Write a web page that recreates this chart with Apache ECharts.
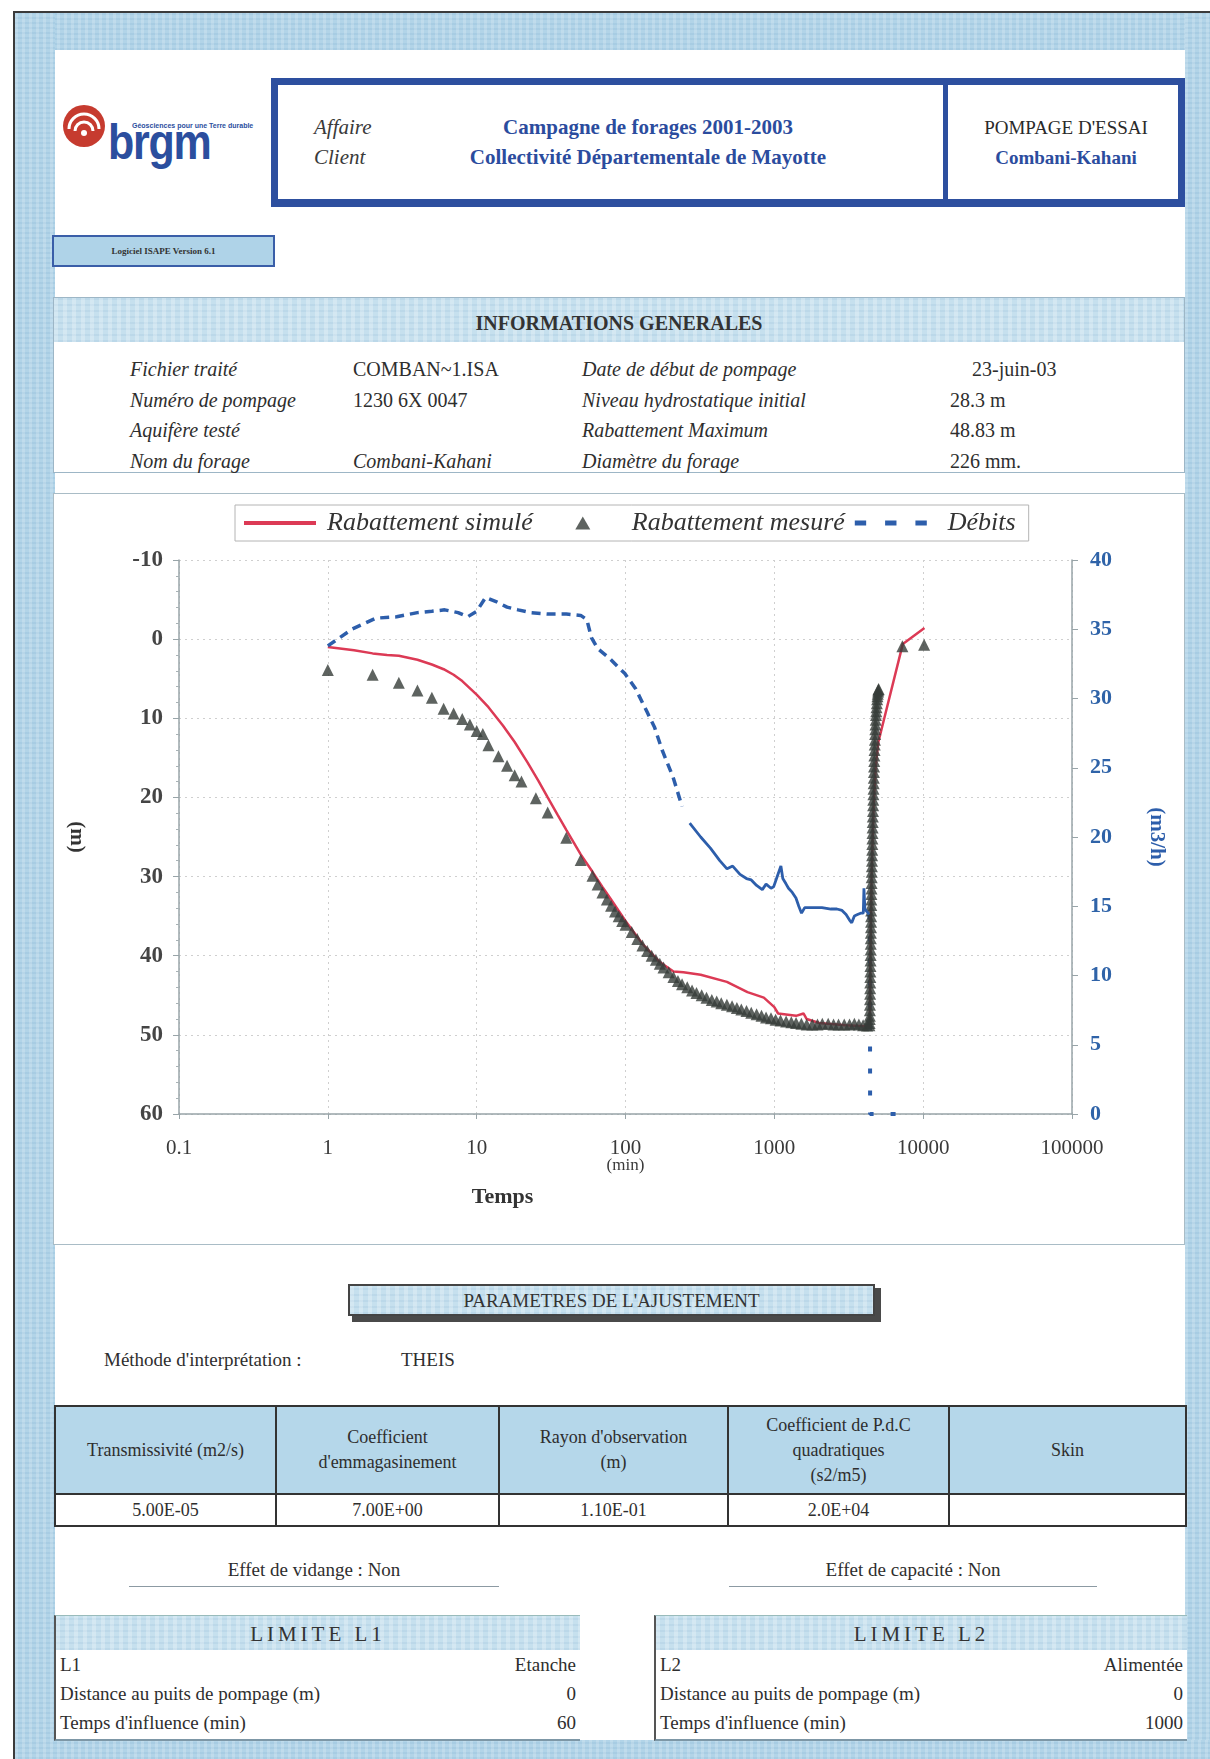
<!DOCTYPE html>
<html lang="fr">
<head>
<meta charset="utf-8">
<title>Pompage d'essai – Combani-Kahani</title>
<script src="https://cdn.jsdelivr.net/npm/echarts@6/dist/echarts.min.js"></script>
<style>
  html, body { margin: 0; padding: 0; background: #ffffff; }
  #page { position: relative; width: 1210px; height: 1759px; overflow: hidden; font-family: "Liberation Serif", "DejaVu Serif", serif; color: #2e2e2e; }
  .abs { position: absolute; }
  .band { position: absolute; background: #b2d4e8;
          background-image: repeating-linear-gradient(90deg, rgba(255,255,255,0.18) 0 3px, rgba(255,255,255,0) 3px 7px),
                            repeating-linear-gradient(0deg, rgba(120,170,205,0.18) 0 2px, rgba(255,255,255,0) 2px 5px); }
  .hdrband { background: #c6e0ee;
             background-image: repeating-linear-gradient(90deg, rgba(255,255,255,0.25) 0 4px, rgba(255,255,255,0) 4px 9px),
                               repeating-linear-gradient(0deg, rgba(140,180,210,0.18) 0 2px, rgba(255,255,255,0) 2px 6px); }
  .blue { color: #2b4c9e; }
  .it { font-style: italic; }
  .b { font-weight: bold; }
  table.params { position: absolute; left: 54px; top: 1405px; width: 1131px; height: 122px; border-collapse: collapse; table-layout: fixed; font-size: 18px; }
  table.params td { border: 2px solid #333; text-align: center; vertical-align: middle; padding: 0 2px; line-height: 25px; color: #2e2e2e; }
  table.params tr.h td { background: #b5d7ea; height: 86px; }
  table.params tr.v td { height: 30px; background: #fff; }
  .lim { position: absolute; top: 1615px; height: 123px; background: #fff; border-left: 2px solid #555; border-bottom: 2px solid #7d97a6; border-top: 1px solid #9bb; }
  .lim .head { position: absolute; left: 0; right: 0; top: 0; height: 34px; text-align: center; font-size: 21px; letter-spacing: 4px; line-height: 36px; color: #333; }
  .lim .row { position: absolute; left: 4px; right: 4px; font-size: 19px; height: 28px; line-height: 28px; }
  .lim .row span.r { position: absolute; right: 0; }
</style>
</head>
<body>
<div id="page">
  <!-- page frame and blue margins -->
  <div class="abs" style="left:13px;top:11px;width:1197px;height:2px;background:#3b3b3b"></div>
  <div class="abs" style="left:13px;top:11px;width:2px;height:1748px;background:#3b3b3b"></div>
  <div class="band" style="left:15px;top:13px;width:1195px;height:37px"></div>
  <div class="band" style="left:15px;top:13px;width:40px;height:1746px"></div>
  <div class="band" style="left:1185px;top:13px;width:25px;height:1746px"></div>
  <div class="band" style="left:15px;top:1740px;width:1195px;height:19px"></div>

  <!-- logo -->
  <svg class="abs" style="left:60px;top:102px" width="52" height="52" viewBox="0 0 52 52">
    <circle cx="24" cy="24" r="21" fill="#c63b2f"/>
    <path d="M9 27 A15 15 0 0 1 39 27" fill="none" stroke="#fff" stroke-width="3"/>
    <path d="M15 29 A9 9 0 0 1 33 29" fill="none" stroke="#fff" stroke-width="3"/>
    <circle cx="24" cy="31" r="3" fill="#fff"/>
  </svg>
  <div class="abs b" style="left:108px;top:116px;font-family:'Liberation Sans',Arial,sans-serif;font-size:50px;letter-spacing:-1.5px;color:#2b4e9e;line-height:52px;transform:scaleX(0.86);transform-origin:left top">brgm</div>
  <div class="abs b" style="left:132px;top:122px;font-family:'Liberation Sans',Arial,sans-serif;font-size:7px;color:#2b4e9e;white-space:nowrap">Géosciences pour une Terre durable</div>

  <!-- heading box -->
  <div class="abs" style="left:271px;top:78px;width:900px;height:114px;border:7px solid #2d4f9f;border-bottom-width:8px"></div>
  <div class="abs" style="left:943px;top:80px;width:5px;height:120px;background:#2d4f9f"></div>
  <div class="abs it" style="left:314px;top:115px;font-size:21px;color:#3a3a3a">Affaire</div>
  <div class="abs it" style="left:314px;top:145px;font-size:21px;color:#3a3a3a">Client</div>
  <div class="abs b blue" style="left:420px;width:456px;text-align:center;top:115px;font-size:21px">Campagne de forages 2001-2003</div>
  <div class="abs b blue" style="left:420px;width:456px;text-align:center;top:145px;font-size:21px">Collectivité Départementale de Mayotte</div>
  <div class="abs" style="left:950px;width:232px;text-align:center;top:117px;font-size:19px;color:#2a2a2a">POMPAGE D'ESSAI</div>
  <div class="abs b blue" style="left:950px;width:232px;text-align:center;top:147px;font-size:19px">Combani-Kahani</div>

  <!-- software tag -->
  <div class="abs" style="left:52px;top:235px;width:219px;height:28px;background:#afd3e8;border:2px solid #3a5ea8;text-align:center;font-size:9px;line-height:28px;font-weight:bold;color:#333">Logiciel ISAPE Version 6.1</div>

  <!-- general information -->
  <div class="abs" style="left:53px;top:297px;width:1130px;height:174px;border:1px solid #9db6c6;background:#fff"></div>
  <div class="abs hdrband" style="left:54px;top:298px;width:1130px;height:44px"></div>
  <div class="abs b" style="left:54px;width:1130px;text-align:center;top:312px;font-size:20px;color:#333">INFORMATIONS GENERALES</div>
  <div class="abs it" style="left:130px;top:354px;font-size:20px;line-height:30.5px">Fichier traité<br>Numéro de pompage<br>Aquifère testé<br>Nom du forage</div>
  <div class="abs" style="left:353px;top:354px;font-size:20px;line-height:30.5px">COMBAN~1.ISA<br>1230 6X 0047<br>&nbsp;<br><i>Combani-Kahani</i></div>
  <div class="abs it" style="left:582px;top:354px;font-size:20px;line-height:30.5px">Date de début de pompage<br>Niveau hydrostatique initial<br>Rabattement Maximum<br>Diamètre du forage</div>
  <div class="abs" style="left:972px;top:354px;font-size:20px;line-height:30.5px">23-juin-03</div>
  <div class="abs" style="left:950px;top:384.5px;font-size:20px;line-height:30.5px">28.3 m<br>48.83 m<br>226 mm.</div>

  <!-- chart panel -->
  <div class="abs" style="left:53px;top:493px;width:1130px;height:750px;border:1px solid #a9bcc6;background:#fff"></div>
  <div id="chart" class="abs" style="left:53px;top:493px;width:1132px;height:752px"></div>

  <!-- fitted parameters -->
  <div class="abs" style="left:352px;top:1288px;width:529px;height:34px;background:#4a4a4a"></div>
  <div class="abs hdrband" style="left:348px;top:1284px;width:523px;height:28px;border:2px solid #444;text-align:center;font-size:19px;line-height:29px;color:#333">PARAMETRES DE L'AJUSTEMENT</div>
  <div class="abs" style="left:104px;top:1349px;font-size:19px">Méthode d'interprétation :</div>
  <div class="abs" style="left:401px;top:1349px;font-size:19px">THEIS</div>

  <table class="params">
    <colgroup><col style="width:221px"><col style="width:223px"><col style="width:229px"><col style="width:221px"><col style="width:237px"></colgroup>
    <tr class="h"><td>Transmissivité (m2/s)</td><td>Coefficient<br>d'emmagasinement</td><td>Rayon d'observation<br>(m)</td><td>Coefficient de P.d.C<br>quadratiques<br>(s2/m5)</td><td>Skin</td></tr>
    <tr class="v"><td>5.00E-05</td><td>7.00E+00</td><td>1.10E-01</td><td>2.0E+04</td><td></td></tr>
  </table>

  <div class="abs" style="left:129px;width:370px;text-align:center;top:1559px;font-size:19px">Effet de vidange : Non</div>
  <div class="abs" style="left:129px;top:1586px;width:370px;height:1px;background:#8c9aa3"></div>
  <div class="abs" style="left:729px;width:368px;text-align:center;top:1559px;font-size:19px">Effet de capacité : Non</div>
  <div class="abs" style="left:729px;top:1586px;width:368px;height:1px;background:#8c9aa3"></div>

  <div class="lim" style="left:54px;width:524px">
    <div class="head hdrband">LIMITE L1</div>
    <div class="row" style="top:35px">L1<span class="r">Etanche</span></div>
    <div class="row" style="top:64px">Distance au puits de pompage (m)<span class="r">0</span></div>
    <div class="row" style="top:93px">Temps d'influence (min)<span class="r">60</span></div>
  </div>
  <div class="lim" style="left:654px;width:531px">
    <div class="head hdrband">LIMITE L2</div>
    <div class="row" style="top:35px">L2<span class="r">Alimentée</span></div>
    <div class="row" style="top:64px">Distance au puits de pompage (m)<span class="r">0</span></div>
    <div class="row" style="top:93px">Temps d'influence (min)<span class="r">1000</span></div>
  </div>
</div>

<script>
// Measured drawdown (m) against elapsed time (min): pumping phase then recovery
const measuredTime = [1, 2, 3, 4, 5, 6, 7, 8, 9, 10, 11, 12, 14, 16, 18, 20, 25, 30, 40, 50,
  60, 65, 70, 75, 80, 85, 90, 95, 100, 110, 120, 130, 140, 150, 160, 170, 180, 195, 210, 225,
  240, 260, 280, 300, 325, 350, 380, 410, 440, 480, 520, 560, 600, 650, 700, 760, 820, 880, 950, 1020,
  1100, 1200, 1300, 1400, 1520, 1650, 1800, 1950, 2100, 2300, 2500, 2700, 2950, 3200, 3450, 3700, 3950, 4200, 4350,
  4365, 4375, 4380, 4385, 4390, 4395, 4400, 4405, 4410, 4415, 4420, 4425, 4430, 4435, 4440, 4445, 4450, 4455, 4460, 4465,
  4470, 4475, 4480, 4485, 4490, 4495, 4500, 4508, 4515, 4522, 4530, 4538, 4545, 4552, 4560, 4568, 4575, 4582, 4590, 4600,
  4610, 4620, 4630, 4640, 4650, 4660, 4670, 4680, 4690, 4702, 4715, 4728, 4740, 4755, 4770, 4785, 4800, 4820, 4840, 4860,
  4880, 4905, 4930, 4955, 4980, 5000, 5020, 7250, 10150];
const measuredDrawdown = [3.9, 4.5, 5.5, 6.5, 7.4, 8.8, 9.4, 10.1, 10.8, 11.6, 12.0, 13.4, 14.8, 16.0, 17.2, 18.0, 20.1, 21.9, 25.1, 27.9,
  29.9, 31.0, 32.0, 32.9, 33.7, 34.4, 35.0, 35.6, 36.1, 37.0, 37.9, 38.7, 39.4, 40.0, 40.5, 41.0, 41.5, 42.1, 42.7, 43.2,
  43.6, 44.0, 44.4, 44.7, 45.0, 45.3, 45.6, 45.8, 46.0, 46.2, 46.4, 46.6, 46.8, 47.0, 47.2, 47.4, 47.6, 47.8, 47.9, 48.1,
  48.2, 48.3, 48.4, 48.5, 48.6, 48.7, 48.7, 48.7, 48.6, 48.6, 48.7, 48.7, 48.7, 48.7, 48.6, 48.7, 48.8, 48.83, 48.8,
  48.5, 48.0, 47.6, 46.9, 46.2, 45.5, 44.8, 44.1, 43.4, 42.7, 42.0, 41.3, 40.6, 39.9, 39.2, 38.5, 37.8, 37.1, 36.4, 35.7,
  35.0, 34.3, 33.6, 32.9, 32.2, 31.5, 30.8, 30.1, 29.4, 28.7, 28.0, 27.3, 26.6, 25.9, 25.2, 24.5, 23.8, 23.1, 22.4, 21.7,
  21.0, 20.3, 19.6, 18.9, 18.2, 17.5, 16.8, 16.1, 15.4, 14.7, 14.0, 13.3, 12.7, 12.0, 11.4, 10.8, 10.2, 9.6, 9.1, 8.6,
  8.1, 7.6, 7.2, 6.9, 6.6, 6.4, 6.3, 0.9, 0.7];

// Theis simulated drawdown (m)
const simulatedTime = [1, 1.5, 2, 2.5, 3, 4, 5, 6, 7, 8, 10, 12, 15, 18, 22, 26, 30, 35, 40, 50,
  60, 70, 80, 100, 130, 170, 210, 245, 320, 480, 660, 850, 1000, 1060, 1400, 1570, 1650, 2000, 3000, 4000,
  4380, 4420, 4500, 4650, 4800, 5000, 7300, 10200];
const simulatedDrawdown = [1.0, 1.4, 1.8, 2.0, 2.1, 2.6, 3.2, 3.8, 4.5, 5.3, 7.0, 8.6, 10.9, 13.0, 15.6, 17.9, 20.0, 22.2, 24.1, 27.2,
  29.4, 31.3, 32.9, 35.6, 38.5, 40.8, 42.0, 42.1, 42.4, 43.3, 44.6, 45.3, 46.5, 47.3, 47.6, 47.3, 48.0, 48.5, 48.8, 48.9,
  48.9, 40.0, 30.0, 21.0, 16.0, 13.0, 0.6, -1.4];

// Pumping rate (m3/h): start-up, steady pumping, shutdown
const flowTimeStart = [1, 1.45, 2.1, 2.9, 4, 5, 6.1, 7.5, 8.7, 10, 11.5, 13.5, 16, 19, 23, 30, 40, 50, 55, 59,
  65, 78, 99, 117, 140, 157, 176, 209, 240];
const flowRateStart = [33.8, 35.0, 35.8, 35.9, 36.2, 36.3, 36.4, 36.2, 35.9, 36.3, 37.3, 37.0, 36.6, 36.4, 36.2, 36.1, 36.1, 36.0, 35.7, 34.4,
  33.6, 32.9, 31.8, 30.7, 29.0, 27.9, 26.3, 24.3, 22.2];
const flowTimeSteady = [270, 320, 372, 430, 481, 525, 588, 650, 700, 760, 830, 880, 950, 989, 1050, 1107, 1140, 1200, 1245, 1320,
  1397, 1460, 1523, 1600, 1800, 2089, 2400, 2630, 2850, 3034, 3200, 3311, 3450, 3620, 3800, 3960, 4000, 4060, 4200, 4330];
const flowRateSteady = [21.0, 20.0, 19.2, 18.3, 17.7, 17.9, 17.3, 17.0, 16.9, 16.5, 16.2, 16.6, 16.3, 16.4, 17.2, 17.9, 17.0, 16.6, 16.3, 16.0,
  15.6, 15.0, 14.5, 14.9, 14.9, 14.9, 14.8, 14.8, 14.7, 14.4, 14.0, 13.8, 14.3, 14.4, 14.5, 14.5, 16.3, 14.8, 14.6, 14.4];
const flowTimeStop = [4330, 4390, 4400, 7900];
const flowRateStop = [14.4, 14.0, 0, 0];

// Axis tick values
const timeTicks = [0.1, 1, 10, 100, 1000, 10000, 100000];
const drawdownTicks = [-10, 0, 10, 20, 30, 40, 50, 60];
const flowTicks = [0, 5, 10, 15, 20, 25, 30, 35, 40];

const pairs = (xs, ys) => xs.map((x, i) => [x, ys[i]]);

const SERIF = 'Liberation Serif';
const RED = '#dc3a55';
const BLUE = '#2d5eab';
const DARK = '#363c38';

const chart = echarts.init(document.getElementById('chart'), null, { renderer: 'canvas' });

chart.setOption({
  animation: false,
  textStyle: { fontFamily: SERIF },
  legend: {
    left: 182, top: 12,
    padding: [5, 13, 5, 9],
    borderColor: '#b4b4b4', borderWidth: 1,
    itemWidth: 72, itemHeight: 13, itemGap: 10,
    symbolKeepAspect: true,
    // trailing spaces widen the first entry so the marker that follows sits further right
    formatter: name => (name === 'Rabattement simulé' ? name + '     ' : name),
    textStyle: { fontFamily: SERIF, fontStyle: 'italic', fontSize: 26, color: '#333' },
    data: [
      { name: 'Rabattement simulé', icon: 'path://M0,0h72v4h-72z', itemStyle: { color: RED },
        textStyle: { padding: [0, 0, 0, 6] } },
      { name: 'Rabattement mesuré', icon: 'path://M6,0L12,10.4L0,10.4Z', itemStyle: { color: DARK },
        textStyle: { padding: [0, 0, 0, 8] } },
      { name: 'Débits', icon: 'path://M0,0h9v4h-9z M24,0h9v4h-9z M48,0h9v4h-9z', itemStyle: { color: BLUE },
        textStyle: { padding: [0, 0, 0, 16] } }
    ]
  },
  grid: { left: 126, right: 113, top: 67, bottom: 131 },
  xAxis: {
    type: 'log', logBase: 10,
    min: timeTicks[0], max: timeTicks[timeTicks.length - 1],
    name: 'Temps', nameLocation: 'middle', nameGap: 72,
    nameTextStyle: { fontFamily: SERIF, fontWeight: 'bold', fontSize: 22, color: '#333', padding: [0, 246, 0, 0] },
    axisLine: { onZero: false, lineStyle: { color: '#98a4a8', width: 1.5 } },
    axisTick: { length: 5, lineStyle: { color: '#98a4a8' } },
    splitLine: { show: true, lineStyle: { color: '#cfcfcf', type: [2, 4] } },
    axisLabel: {
      margin: 24, fontSize: 21, color: '#3a3a3a', lineHeight: 20,
      formatter: v => {
        const s = String(+Number(v).toPrecision(6));
        return s === '100' ? '{a|100}\n{b|(min)}' : s;
      },
      rich: {
        a: { fontFamily: SERIF, fontSize: 21, color: '#3a3a3a', lineHeight: 20 },
        b: { fontFamily: SERIF, fontSize: 17, color: '#3a3a3a', lineHeight: 15 }
      }
    }
  },
  yAxis: [
    {
      type: 'value', inverse: true,
      min: drawdownTicks[0], max: drawdownTicks[drawdownTicks.length - 1], interval: 10,
      name: '(m)', nameLocation: 'middle', nameRotate: -90, nameGap: 92,
      nameTextStyle: { fontFamily: SERIF, fontWeight: 'bold', fontSize: 21, color: '#333' },
      axisLine: { show: true, onZero: false, lineStyle: { color: '#98a4a8', width: 1.5 } },
      axisTick: { show: true, length: 6, lineStyle: { color: '#98a4a8' } },
      minorTick: { show: true, splitNumber: 5, length: 3, lineStyle: { color: '#a8b2b5' } },
      splitLine: { show: true, lineStyle: { color: '#cfcfcf', type: [2, 4] } },
      axisLabel: { margin: 16, fontSize: 23, fontWeight: 'bold', color: '#454545' }
    },
    {
      type: 'value',
      min: flowTicks[0], max: flowTicks[flowTicks.length - 1], interval: 5,
      name: '(m3/h)', nameLocation: 'middle', nameRotate: -90, nameGap: 74,
      nameTextStyle: { fontFamily: SERIF, fontWeight: 'bold', fontSize: 21, color: BLUE },
      axisLine: { show: true, onZero: false, lineStyle: { color: '#98a4a8', width: 1.5 } },
      axisTick: { show: true, length: 6, lineStyle: { color: '#98a4a8' } },
      splitLine: { show: false },
      axisLabel: { margin: 18, fontSize: 22, fontWeight: 'bold', color: '#2f63a8' }
    }
  ],
  series: [
    {
      name: 'Rabattement simulé', type: 'line', yAxisIndex: 0, z: 2,
      symbol: 'none', smooth: false,
      lineStyle: { color: RED, width: 2.5 }, itemStyle: { color: RED },
      data: pairs(simulatedTime, simulatedDrawdown)
    },
    {
      name: 'Rabattement mesuré', type: 'scatter', yAxisIndex: 0, z: 3,
      symbol: 'triangle', symbolSize: 12,
      itemStyle: { color: DARK },
      data: pairs(measuredTime, measuredDrawdown)
    },
    {
      name: 'Débits', type: 'line', yAxisIndex: 1, z: 4,
      symbol: 'none',
      lineStyle: { color: BLUE, width: 3.5, type: [9, 6] }, itemStyle: { color: BLUE },
      data: pairs(flowTimeStart, flowRateStart)
    },
    {
      name: 'Débits', type: 'line', yAxisIndex: 1, z: 4,
      symbol: 'none',
      lineStyle: { color: BLUE, width: 2.8 }, itemStyle: { color: BLUE },
      data: pairs(flowTimeSteady, flowRateSteady)
    },
    {
      name: 'Débits', type: 'line', yAxisIndex: 1, z: 1,
      symbol: 'none',
      lineStyle: { color: BLUE, width: 4, type: [5, 17] }, itemStyle: { color: BLUE },
      data: pairs(flowTimeStop, flowRateStop)
    }
  ]
});
</script>
</body>
</html>
